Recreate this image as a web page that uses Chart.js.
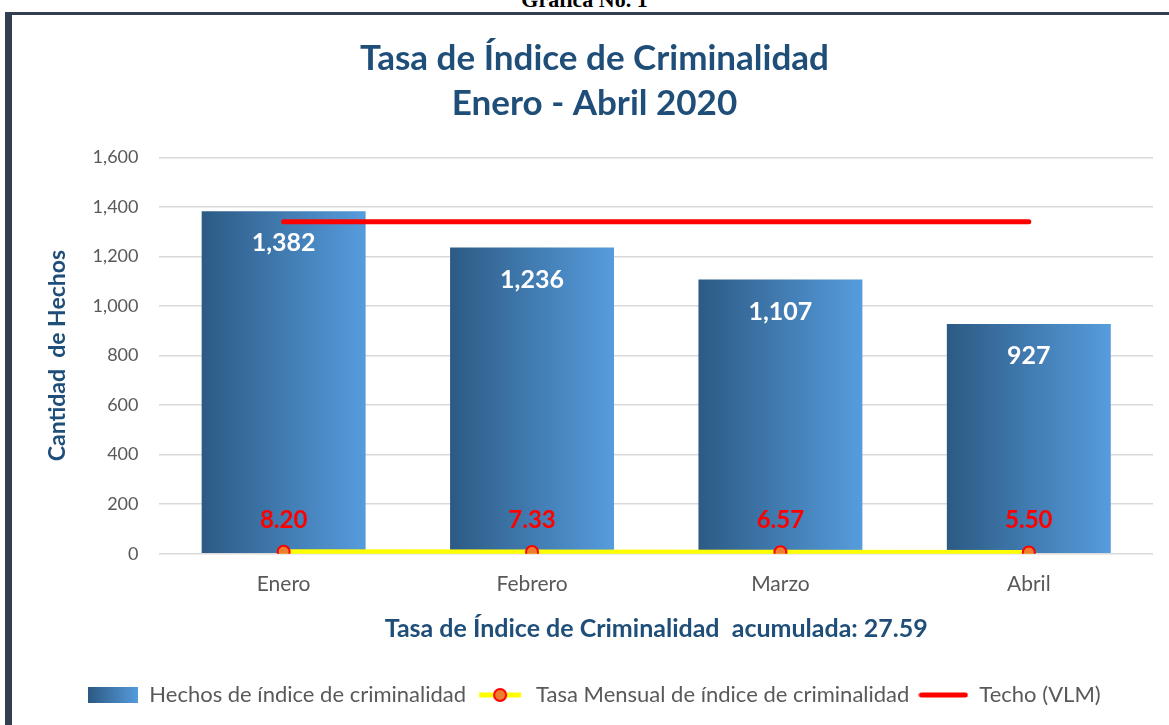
<!DOCTYPE html>
<html>
<head>
<meta charset="utf-8">
<script src="https://cdn.jsdelivr.net/npm/chart.js@4.4.1/dist/chart.umd.min.js"></script>
<style>
body{margin:0;background:#fff;overflow:hidden;}
#top{position:absolute;left:0;top:-13px;width:1169px;text-align:center;font:bold 22px "Liberation Serif",serif;color:#000;}
#frame{position:absolute;left:5px;top:12px;width:1300px;height:900px;border-left:7px solid #333F50;border-top:3px solid #333F50;}
#wrap{position:absolute;left:0;top:0;width:1169px;height:725px;}
</style>
</head>
<body>
<div id="top">Gráfica No. 1</div>
<div id="frame"></div>
<div id="wrap"><canvas id="canvas"></canvas></div>
<script>
var months = ['Enero', 'Febrero', 'Marzo', 'Abril'];
var hechos = [1382, 1236, 1107, 927];
var tasa = [8.20, 7.33, 6.57, 5.50];
var techo = [1340, 1340, 1340, 1340];
var yMax = 1600;
var yStep = 200;
var barPct = 0.66;

function barFill(c) {
    var chart = c.chart;
    var area = chart.chartArea;
    if (!area || !chart.scales.x) return '#3F7FBF';
    var x = chart.scales.x.getPixelForValue(c.dataIndex);
    var half = area.width / months.length * barPct / 2;
    var g = chart.ctx.createLinearGradient(x - half, 0, x + half, 0);
    g.addColorStop(0, '#2C5A84');
    g.addColorStop(1, '#569CDD');
    return g;
}

// little pictures for the legend keys
function legendKey(kind) {
    var cv = document.createElement('canvas');
    cv.width = 50; cv.height = 18;
    var k = cv.getContext('2d');
    if (kind == 'bar') {
        var g = k.createLinearGradient(0, 0, 50, 0);
        g.addColorStop(0, '#2C5A84');
        g.addColorStop(1, '#569CDD');
        k.fillStyle = g;
        k.fillRect(0, 1, 50, 16);
    } else if (kind == 'tasa') {
        k.strokeStyle = '#FFFF00';
        k.lineWidth = 5;
        k.beginPath(); k.moveTo(4, 9); k.lineTo(46, 9); k.stroke();
        k.fillStyle = '#ED7D31';
        k.strokeStyle = '#FF0000';
        k.lineWidth = 2;
        k.beginPath(); k.arc(25, 9, 6, 0, Math.PI * 2); k.fill(); k.stroke();
    } else {
        k.strokeStyle = '#FF0000';
        k.lineWidth = 5;
        k.lineCap = 'round';
        k.beginPath(); k.moveTo(3, 9); k.lineTo(47, 9); k.stroke();
    }
    return cv;
}
var keys = [legendKey('bar'), legendKey('tasa'), legendKey('techo')];

var valueLabels = {
    id: 'valueLabels',
    afterDatasetsDraw: function (chart) {
        var ctx = chart.ctx;
        ctx.save();
        ctx.textAlign = 'center';
        ctx.textBaseline = 'middle';
        ctx.font = 'bold 25px Lato';
        ctx.fillStyle = '#FFFFFF';
        chart.getDatasetMeta(0).data.forEach(function (bar, i) {
            ctx.fillText(hechos[i].toLocaleString('en-US'), bar.x, bar.y + 32);
        });
        ctx.font = 'bold 24px Lato';
        ctx.fillStyle = '#FF0000';
        chart.getDatasetMeta(1).data.forEach(function (pt, i) {
            ctx.fillText(tasa[i].toFixed(2), pt.x, pt.y - 32);
        });
        ctx.restore();
    }
};

window.onload = function () {
    var ctx = document.getElementById('canvas').getContext('2d');
    new Chart(ctx, {
        type: 'bar',
        data: {
            labels: months,
            datasets: [{
                type: 'bar',
                label: 'Hechos de índice de criminalidad',
                data: hechos,
                backgroundColor: barFill,
                barPercentage: barPct,
                categoryPercentage: 1,
                order: 3
            }, {
                type: 'line',
                label: 'Tasa Mensual de índice de criminalidad',
                data: tasa,
                borderColor: '#FFFF00',
                borderWidth: 5,
                pointRadius: 6,
                pointBackgroundColor: '#ED7D31',
                pointBorderColor: '#FF0000',
                pointBorderWidth: 2,
                order: 1
            }, {
                type: 'line',
                label: 'Techo (VLM)',
                data: techo,
                borderColor: '#FF0000',
                borderWidth: 5,
                borderCapStyle: 'round',
                pointRadius: 0,
                order: 2
            }]
        },
        options: {
            responsive: true,
            maintainAspectRatio: false,
            animation: false,
            locale: 'en-US',
            layout: { padding: { left: 36, right: 16, top: 20, bottom: 9 } },
            plugins: {
                tooltip: { enabled: false },
                title: {
                    display: true,
                    text: ['Tasa de Índice de Criminalidad', 'Enero - Abril 2020'],
                    color: '#1F4E79',
                    font: { family: 'Lato', size: 35, weight: 'bold', lineHeight: 1.29 },
                    padding: { top: 16, bottom: 31 }
                },
                legend: {
                    position: 'bottom',
                    labels: {
                        usePointStyle: true,
                        pointStyleWidth: 50,
                        boxHeight: 18,
                        padding: 9,
                        color: '#595959',
                        font: { family: 'Lato', size: 22 },
                        generateLabels: function (chart) {
                            return chart.data.datasets.map(function (ds, i) {
                                return { text: ds.label, datasetIndex: i, pointStyle: keys[i], fontColor: '#595959', hidden: false, lineWidth: 0 };
                            });
                        }
                    }
                }
            },
            scales: {
                x: {
                    grid: { display: false },
                    border: { display: false },
                    ticks: { color: '#595959', font: { family: 'Lato', size: 21 }, padding: 10 },
                    title: {
                        display: true,
                        text: 'Tasa de Índice de Criminalidad  acumulada: 27.59',
                        color: '#1F4E79',
                        font: { family: 'Lato', size: 25, weight: 'bold' },
                        padding: { top: 7, bottom: 31 }
                    }
                },
                y: {
                    min: 0,
                    max: yMax,
                    grid: { color: '#D9D9D9', lineWidth: 1.5, drawTicks: false },
                    border: { display: false },
                    ticks: { stepSize: yStep, color: '#595959', font: { family: 'Lato', size: 18 }, padding: 21 },
                    title: {
                        display: true,
                        text: 'Cantidad  de Hechos',
                        color: '#1F4E79',
                        font: { family: 'Lato', size: 23, weight: 'bold' },
                        padding: { top: 8, bottom: 0 }
                    }
                }
            }
        },
        plugins: [valueLabels]
    });
};
</script>
</body>
</html>
